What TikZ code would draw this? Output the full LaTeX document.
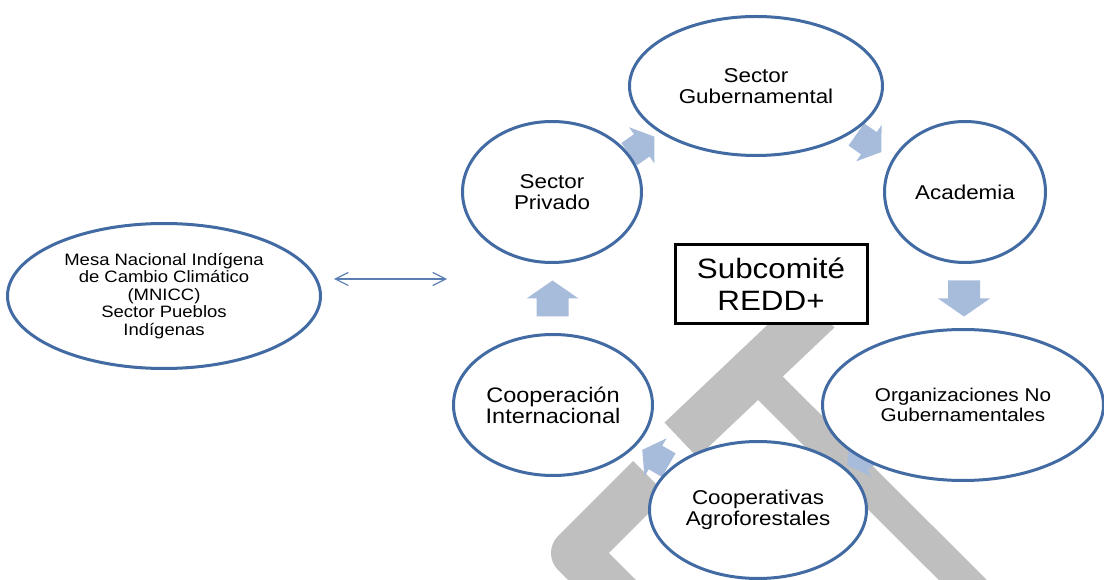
\documentclass[tikz,border=0pt]{standalone}
\usepackage{fontspec}
\setmainfont{Liberation Sans}[FakeStretch=1.12]
\usetikzlibrary{shapes.geometric, positioning, calc, arrows.meta, backgrounds}
\definecolor{ringblue}{RGB}{66,106,163}
\definecolor{flowfill}{RGB}{167,187,219}
\definecolor{markgray}{RGB}{191,191,191}
\definecolor{linkblue}{RGB}{90,125,180}

\begin{document}
\begin{tikzpicture}[x=1pt, y=1pt, on grid,
    ring/.style={ellipse, draw=ringblue, line width=3pt, fill=white, inner sep=0pt, align=center, font=\fontsize{20}{21}\selectfont},
    hub/.style={rectangle, draw=black, line width=3pt, fill=white, align=center, minimum width=192pt, minimum height=79pt, font=\fontsize{28}{32}\selectfont},
    band/.style={draw=markgray, line width=#1},
    link/.style={draw=linkblue, line width=1.2pt, {Straight Barb[length=13pt,width=13pt]}-{Straight Barb[length=13pt,width=13pt]}},
    flow/.pic={\fill[flowfill] (-18,-16) -- (0,-16) -- (0,-26) -- (18,0) -- (0,26) -- (0,16) -- (-18,16) -- cycle;}]
    \useasboundingbox (0,0) rectangle (1104,579);

    \node[hub] (redd) at (771,295) {Subcomité\\REDD+};
    \node[ring, minimum width=253pt, minimum height=139pt] (gub) [above left=198pt and 15pt of redd] {Sector\\Gubernamental};
    \node[ring, minimum width=179pt, minimum height=141pt] (priv) [above left=92pt and 219pt of redd] {Sector\\Privado};
    \node[ring, minimum width=161pt, minimum height=141pt] (acad) [above right=92pt and 194pt of redd] {Academia};
    \node[ring, minimum width=281pt, minimum height=151pt, font=\fontsize{18.5}{20.5}\selectfont] (ong) [below right=121pt and 192pt of redd] {Organizaciones No\\Gubernamentales};
    \node[ring, minimum width=217pt, minimum height=137pt] (agro) [below left=226pt and 13pt of redd] {Cooperativas\\Agroforestales};
    \node[ring, minimum width=199pt, minimum height=141pt, font=\fontsize{21}{21}\selectfont] (coop) [below left=121pt and 218pt of redd] {Cooperación\\Internacional};
    \node[ring, minimum width=313pt, minimum height=145pt, font=\fontsize{16.5}{17.5}\selectfont] (mnicc) [below left=104pt and 388pt of priv] {Mesa Nacional Indígena\\de Cambio Climático\\(MNICC)\\Sector Pueblos\\Indígenas};

    \coordinate (linkend) at (447,300);
    \draw[link, shorten <=12pt] (mnicc.east |- linkend) -- (linkend);

    \begin{scope}[on background layer]
        \draw[band=48pt, line join=round] (650,101) -- (575,26) -- (625,-24);
        \draw[band=48pt] (818,269) -- (681,139);
        \draw[band=34pt] (755,206) -- (990,-28);
        \pic[rotate=35, scale=0.85] at ($(priv)!0.44!(gub)$) {flow};
        \pic[rotate=-35, scale=0.85] at ($(gub)!0.54!(acad)$) {flow};
        \pic[rotate=-90] at ($(acad)!0.5!(ong)$) {flow};
        \pic[rotate=210, scale=0.85] at ($(ong)!0.5!(agro)$) {flow};
        \pic[rotate=150, scale=0.85] at ($(agro)!0.5!(coop)$) {flow};
        \pic[rotate=90] at ($(coop)!0.5!(priv)$) {flow};
    \end{scope}
\end{tikzpicture}
\end{document}
